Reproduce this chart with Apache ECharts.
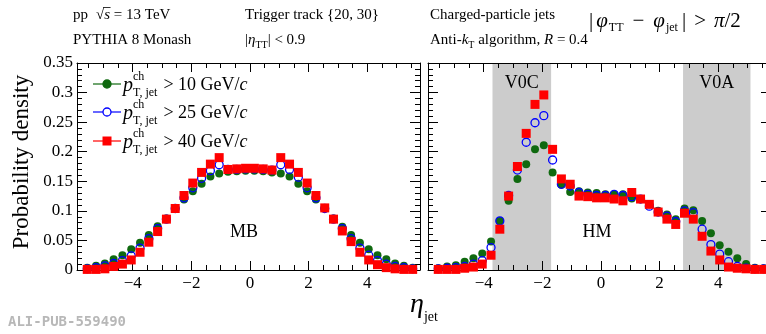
<!DOCTYPE html>
<html><head><meta charset="utf-8">
<script src="https://cdn.jsdelivr.net/npm/echarts@6.0.0/dist/echarts.min.js"></script>
<style>html,body{margin:0;padding:0;background:#fff}#c{width:766px;height:334px}</style>
</head><body><div id="c"></div>
<script>
// ---- data ----
const ETA = [-5.55,-5.25,-4.95,-4.65,-4.35,-4.05,-3.75,-3.45,-3.15,-2.85,-2.55,-2.25,-1.95,-1.65,-1.35,-1.05,-0.75,-0.45,-0.15,0.15,0.45,0.75,1.05,1.35,1.65,1.95,2.25,2.55,2.85,3.15,3.45,3.75,4.05,4.35,4.65,4.95,5.25,5.55];
const MB_PT10 = [0.004,0.007,0.011,0.018,0.025,0.035,0.046,0.059,0.074,0.087,0.105,0.119,0.133,0.146,0.158,0.163,0.166,0.167,0.168,0.168,0.167,0.165,0.163,0.158,0.146,0.133,0.119,0.105,0.087,0.073,0.059,0.046,0.035,0.025,0.018,0.011,0.007,0.004];
const MB_PT25 = [0.002,0.004,0.007,0.011,0.016,0.024,0.037,0.053,0.070,0.086,0.104,0.122,0.139,0.155,0.168,0.178,0.170,0.170,0.171,0.171,0.170,0.169,0.178,0.170,0.157,0.139,0.122,0.104,0.086,0.070,0.053,0.037,0.025,0.016,0.010,0.006,0.004,0.002];
const MB_PT40 = [0.001,0.001,0.002,0.006,0.010,0.017,0.030,0.047,0.065,0.086,0.104,0.126,0.147,0.165,0.179,0.190,0.170,0.171,0.172,0.172,0.171,0.169,0.190,0.179,0.165,0.147,0.126,0.105,0.086,0.066,0.048,0.030,0.017,0.009,0.004,0.002,0.001,0.001];
const HM_PT10 = [0.003,0.006,0.008,0.014,0.020,0.028,0.048,0.083,0.117,0.154,0.179,0.204,0.211,0.165,0.144,0.132,0.133,0.131,0.130,0.128,0.128,0.128,0.121,0.120,0.111,0.100,0.094,0.086,0.104,0.101,0.083,0.062,0.042,0.031,0.020,0.010,0.004,0.003];
const HM_PT25 = [0.002,0.003,0.004,0.006,0.010,0.016,0.038,0.083,0.126,0.169,0.216,0.249,0.261,0.186,0.145,0.142,0.131,0.128,0.126,0.126,0.128,0.126,0.124,0.120,0.108,0.098,0.091,0.082,0.100,0.097,0.069,0.043,0.027,0.014,0.006,0.003,0.002,0.002];
const HM_PT40 = [0.001,0.001,0.001,0.003,0.005,0.010,0.025,0.069,0.125,0.175,0.231,0.280,0.296,0.204,0.154,0.145,0.125,0.124,0.122,0.122,0.120,0.117,0.131,0.120,0.111,0.098,0.086,0.077,0.096,0.086,0.057,0.032,0.017,0.005,0.003,0.002,0.001,0.001];
const X_MAJOR = [-4,-2,0,2,4];
const X_MINOR = [-5.5,-5,-4.5,-3.5,-3,-2.5,-1.5,-1,-0.5,0.5,1,1.5,2.5,3,3.5,4.5,5,5.5];
const V0C = [-3.7,-1.7];
const V0A = [2.8,5.1];
const X_MIN = -5.9, X_MAX = 5.8;
const Y_MIN = 0, Y_MAX = 0.35, Y_STEP = 0.05;

// ---- style ----
const SERIF = '"Liberation Serif", "Times New Roman", serif';
const GREEN = '#0f690f', BLUE = '#0000ff', RED = '#ff0000';
const ctx = document.createElement('canvas').getContext('2d');
function fnt(p){ return (p.italic?'italic ':'') + p.size + 'px ' + SERIF; }
// pieces: {t,size,italic,dy,stack(no advance),over,gap}
function runs(x, ymid, pieces, color){
  const els = []; let cx = x; let stackW = 0;
  pieces.forEach(p => {
    if (p.gap){ cx += p.gap; return; }
    ctx.font = fnt(p);
    const w = ctx.measureText(p.t).width;
    els.push({type:'text', x:cx, y:ymid + (p.dy||0), silent:true,
      style:{text:p.t, font:fnt(p), fill:color||'#000', textAlign:'left', textVerticalAlign:'middle'}});
    if (p.over){
      els.push({type:'line', silent:true, shape:{x1:cx-1, y1:ymid-p.size*0.5, x2:cx+w+0.5, y2:ymid-p.size*0.5}, style:{stroke:'#000', lineWidth:0.8}});
    }
    if (p.stack){ stackW = Math.max(stackW, w); }
    else { cx += Math.max(w, stackW); stackW = 0; }
  });
  return els;
}

const HS = 15; // header size
const PS = 21; // phi label size
const header = [].concat(
  runs(73, 15, [{t:'pp',size:HS},{gap:8},{t:'√',size:HS},{t:'s',size:HS,italic:true,over:true},{t:' = 13 TeV',size:HS}]),
  runs(73, 40, [{t:'PYTHIA 8 Monash',size:HS}]),
  runs(245, 15, [{t:'Trigger track {20, 30}',size:HS}]),
  runs(245, 40, [{t:'|',size:HS},{t:'η',size:HS,italic:true},{t:'TT',size:10,dy:5},{t:'| < 0.9',size:HS}]),
  runs(430, 15, [{t:'Charged-particle jets',size:HS}]),
  runs(430, 40, [{t:'Anti-',size:HS},{t:'k',size:HS,italic:true},{t:'T',size:10,dy:5},{t:' algorithm, ',size:HS},{t:'R',size:HS,italic:true},{t:' = 0.4',size:HS}]),
  runs(589, 21, [{t:'|',size:PS},{gap:3},{t:'φ',size:PS,italic:true},{gap:1},{t:'TT',size:12,dy:7},{gap:9},{t:'−',size:PS},{gap:9},{t:'φ',size:PS,italic:true},{gap:1},{t:'jet',size:12,dy:7},{gap:4},{t:'|',size:PS},{gap:8},{t:'>',size:PS},{gap:8},{t:'π',size:PS,italic:true},{t:'/2',size:PS}])
);

const legItems = [
  {y:84, color:GREEN, fill:GREEN, shape:'circle', txt:'> 10 GeV/'},
  {y:112, color:BLUE, fill:'#fff', shape:'circle', txt:'> 25 GeV/'},
  {y:141, color:RED, fill:RED, shape:'rect', txt:'> 40 GeV/'}
];
const legend = [];
legItems.forEach(it => {
  legend.push({type:'line', silent:true, shape:{x1:93,y1:it.y,x2:121,y2:it.y}, style:{stroke:it.color, lineWidth:1.2}});
  if (it.shape === 'circle') legend.push({type:'circle', silent:true, shape:{cx:107,cy:it.y,r:4}, style:{fill:it.fill, stroke:it.color, lineWidth:1.3}});
  else legend.push({type:'rect', silent:true, shape:{x:102.5,y:it.y-4.5,width:9,height:9}, style:{fill:it.fill}});
  legend.push(...runs(123, it.y + 1, [
    {t:'p',size:20,italic:true,dy:1},
    {t:'ch',size:12,dy:-8,stack:true},{t:'T, jet',size:12,dy:8},
    {gap:6},{t:it.txt,size:18},{t:'c',size:18,italic:true}
  ]));
});

const annotations = [
  {type:'text', x:244, y:232, silent:true, style:{text:'MB', font:'18px '+SERIF, fill:'#000', textAlign:'center', textVerticalAlign:'middle'}},
  {type:'text', x:597, y:232, silent:true, style:{text:'HM', font:'18px '+SERIF, fill:'#000', textAlign:'center', textVerticalAlign:'middle'}},
  {type:'text', x:22, y:162, rotation:Math.PI/2, silent:true, style:{text:'Probability density', font:'23px '+SERIF, fill:'#000', textAlign:'center', textVerticalAlign:'middle'}},
  {type:'text', x:8, y:322, silent:true, style:{text:'ALI-PUB-559490', font:'bold 14px "DejaVu Sans Mono", monospace', fill:'#b8b8b8', textAlign:'left', textVerticalAlign:'middle'}}
].concat(runs(410, 305, [{t:'η',size:28,italic:true},{t:'jet',size:14,dy:12}]));

// ---- axes ----
const fmtX = v => (v < 0 ? '−' + (-v) : String(v));
function xAxes(gi){
  const line = {onZero:false, lineStyle:{color:'#000', width:1}};
  const base = {type:'value', gridIndex:gi, min:X_MIN, max:X_MAX, splitLine:{show:false}, z:3};
  const tk = (len, vals) => ({show:true, inside:true, length:len, customValues:vals, lineStyle:{color:'#000', width:1}});
  return [
    Object.assign({}, base, {position:'bottom', axisLine:line, axisTick:tk(9, X_MAJOR),
      axisLabel:{show:true, customValues:X_MAJOR, formatter:fmtX, margin:5, fontFamily:SERIF, fontSize:17, color:'#000'}}),
    Object.assign({}, base, {position:'bottom', axisLine:{show:false, onZero:false}, axisTick:tk(5, X_MINOR), axisLabel:{show:false}}),
    Object.assign({}, base, {position:'top', axisLine:line, axisTick:tk(9, X_MAJOR), axisLabel:{show:false}}),
    Object.assign({}, base, {position:'top', axisLine:{show:false, onZero:false}, axisTick:tk(5, X_MINOR), axisLabel:{show:false}})
  ];
}
function yAxes(gi, withLabels){
  const base = {type:'value', gridIndex:gi, min:Y_MIN, max:Y_MAX, interval:Y_STEP, splitLine:{show:false}, z:3,
    axisLine:{onZero:false, lineStyle:{color:'#000', width:1}},
    axisTick:{inside:true, length:10, lineStyle:{color:'#000', width:1}},
    minorTick:{show:true, splitNumber:5, length:5, lineStyle:{color:'#000', width:1}}};
  return [
    Object.assign({}, base, {position:'left', axisLabel:{show:withLabels, margin:4, fontFamily:SERIF, fontSize:17, color:'#000'}}),
    Object.assign({}, base, {position:'right', axisLabel:{show:false}})
  ];
}

function mk(gi, vals, sym, size, fill, stroke){
  return {type:'scatter', xAxisIndex:gi*4, yAxisIndex:gi*2, z:4, silent:true,
    data: ETA.map((x,i) => [x, vals[i]]), symbol:sym, symbolSize:size,
    itemStyle:{color:fill, borderColor:stroke, borderWidth: stroke ? 1.3 : 0, opacity:1}};
}

const chart = echarts.init(document.getElementById('c'), null, {renderer:'canvas'});
chart.setOption({
  animation:false,
  backgroundColor:'#fff',
  grid:[
    {left:77, top:63, width:343, height:207, outerBoundsMode:'none', containLabel:false},
    {left:428, top:63, width:343, height:207, outerBoundsMode:'none', containLabel:false}
  ],
  xAxis: xAxes(0).concat(xAxes(1)),
  yAxis: yAxes(0, true).concat(yAxes(1, false)),
  series:[
    {type:'scatter', xAxisIndex:4, yAxisIndex:2, z:1, data:[], silent:true,
      markArea:{silent:true, itemStyle:{color:'#cccccc'},
        label:{show:true, position:'insideTop', distance:11, fontFamily:SERIF, fontSize:18, color:'#000'},
        data:[[{name:'V0C', xAxis:V0C[0]},{xAxis:V0C[1]}],[{name:'V0A', xAxis:V0A[0]},{xAxis:V0A[1]}]]}},
    mk(0, MB_PT10, 'circle', 8, GREEN, null),
    mk(0, MB_PT25, 'circle', 8, 'rgba(0,0,0,0)', BLUE),
    mk(0, MB_PT40, 'rect', 9, RED, null),
    mk(1, HM_PT10, 'circle', 8, GREEN, null),
    mk(1, HM_PT25, 'circle', 8, 'rgba(0,0,0,0)', BLUE),
    mk(1, HM_PT40, 'rect', 9, RED, null)
  ],
  graphic: header.concat(legend, annotations)
});
</script></body></html>
